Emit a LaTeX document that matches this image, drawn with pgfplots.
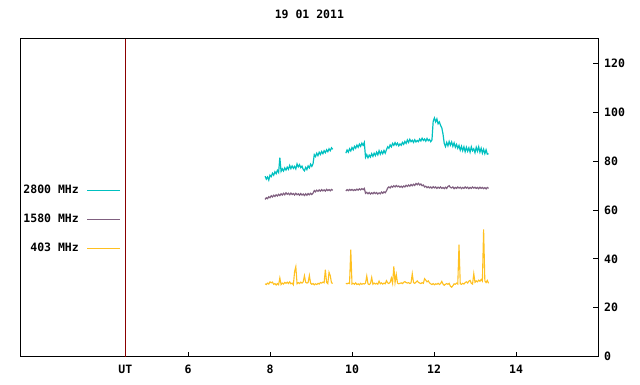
\documentclass[border=0pt]{standalone}
\usepackage{fontspec}
\setmainfont{DejaVu Sans Mono}
\usepackage{pgfplots}
\usepackage{pgfplotstable}
\pgfplotsset{compat=1.18}
\definecolor{ccyan}{RGB}{0,192,192}
\definecolor{cpurp}{RGB}{128,96,128}
\definecolor{corng}{RGB}{255,192,32}
\definecolor{cdred}{RGB}{139,0,0}
\pgfplotstableread{
x c p o
7.88 73.8 64.3 29.8
7.91 72.6 65.0 29.5
7.94 73.5 64.6 30.1
7.97 72.2 65.4 29.7
8.00 74.2 65.0 30.6
8.03 73.6 65.8 30.2
8.06 75.0 65.3 30.5
8.09 74.2 66.0 29.6
8.12 75.6 65.5 29.9
8.15 74.8 66.2 29.3
8.18 76.2 65.7 29.9
8.21 75.3 66.4 29.4
8.24 81.4 65.9 32.2
8.27 75.8 66.6 29.5
8.30 76.8 66.1 30.1
8.33 75.9 66.8 29.7
8.36 77.2 66.2 30.4
8.39 76.3 67.0 30.0
8.42 77.5 66.4 30.5
8.45 76.6 66.8 29.9
8.48 78.2 66.2 30.6
8.51 76.9 66.9 29.8
8.54 78.0 66.3 30.1
8.57 77.0 66.7 29.4
8.60 77.8 66.1 34.8
8.63 76.8 66.8 36.8
8.66 78.8 66.2 29.8
8.69 77.6 66.6 30.3
8.72 78.5 66.0 29.9
8.75 77.3 66.7 30.5
8.78 77.9 66.1 30.1
8.81 76.6 66.5 30.6
8.84 76.0 65.9 33.1
8.87 77.4 66.6 30.4
8.90 76.5 66.0 30.1
8.93 78.0 66.7 30.3
8.96 77.2 66.2 33.2
8.99 78.7 66.8 30.1
9.02 77.8 66.3 29.6
9.05 78.9 66.9 29.9
9.08 82.6 67.9 29.4
9.11 81.8 67.4 29.8
9.14 83.2 68.1 29.5
9.17 82.2 67.6 30.0
9.20 83.6 68.2 29.7
9.23 82.7 67.7 30.3
9.26 83.9 68.3 30.1
9.29 83.0 67.8 30.5
9.32 84.2 68.2 30.2
9.35 83.4 67.7 35.6
9.38 84.6 68.4 30.4
9.41 83.8 67.9 29.9
9.44 85.0 68.3 34.5
9.47 84.2 67.8 33.1
9.50 85.4 68.4 30.2
9.53 84.8 68.0 30.0
9.70 nan nan nan
9.85 83.2 67.8 30.0
9.88 84.5 68.3 29.8
9.91 83.6 67.9 30.1
9.94 85.0 68.4 29.9
9.97 84.1 68.0 43.8
10.00 85.5 68.4 29.7
10.03 84.6 67.9 30.0
10.06 86.0 68.3 29.6
10.09 85.2 68.0 30.2
10.12 86.5 68.5 29.5
10.15 85.6 68.1 29.8
10.18 86.9 68.6 29.4
10.21 86.0 68.2 30.0
10.24 87.3 68.7 29.6
10.27 86.4 68.3 29.9
10.30 87.6 68.8 29.7
10.33 81.5 66.8 30.1
10.36 82.6 67.2 33.0
10.39 81.3 66.6 29.8
10.42 82.4 67.1 29.5
10.45 81.6 66.5 29.9
10.48 83.0 67.0 32.4
10.51 81.9 66.6 29.6
10.54 83.2 67.2 30.1
10.57 82.2 66.7 29.7
10.60 83.6 67.1 30.0
10.63 82.5 66.5 29.6
10.66 84.2 67.0 30.9
10.69 82.8 66.6 29.8
10.72 84.0 67.3 30.2
10.75 83.0 66.8 29.7
10.78 84.3 67.4 30.1
10.81 83.2 67.0 29.8
10.84 84.6 67.8 31.1
10.87 85.8 68.9 30.2
10.90 85.2 69.4 29.9
10.93 86.6 69.0 30.4
10.96 85.8 69.7 32.2
10.99 87.2 69.3 30.0
11.02 86.4 69.9 36.9
11.05 87.5 69.4 30.3
11.08 86.5 70.0 33.6
11.11 87.3 69.5 30.1
11.14 86.2 69.8 29.8
11.17 87.0 69.3 30.0
11.20 86.4 69.7 30.2
11.23 87.6 69.2 29.9
11.26 86.8 69.8 30.4
11.29 88.0 69.4 30.7
11.32 87.2 70.1 30.3
11.35 88.6 69.6 30.1
11.38 87.6 70.2 30.3
11.41 88.9 69.7 29.9
11.44 87.9 70.4 30.2
11.47 88.5 69.9 33.9
11.50 87.6 70.5 30.3
11.53 88.7 70.0 30.0
11.56 87.8 70.8 30.5
11.59 88.4 70.3 31.0
11.62 87.9 70.9 30.4
11.65 89.0 70.2 30.1
11.68 88.2 70.6 29.9
11.71 89.3 69.9 30.3
11.74 88.4 70.2 30.0
11.77 89.0 69.4 31.9
11.80 88.1 69.7 31.3
11.83 89.2 69.1 30.6
11.86 88.3 69.5 31.0
11.89 88.8 69.0 30.2
11.92 87.9 69.4 29.8
11.95 88.6 68.9 29.5
11.98 96.2 69.5 29.9
12.01 97.6 69.0 29.4
12.04 96.0 69.4 29.8
12.07 97.2 68.8 29.6
12.10 95.2 69.3 30.0
12.13 96.0 68.9 29.5
12.16 94.6 69.4 29.9
12.19 93.6 68.8 30.8
12.22 91.0 69.2 29.7
12.25 87.2 68.7 29.2
12.28 85.9 69.3 29.6
12.31 87.6 68.8 29.9
12.34 86.2 69.6 29.6
12.37 88.0 69.9 30.0
12.40 86.5 69.2 28.8
12.43 87.8 69.0 28.4
12.46 86.0 69.4 29.0
12.49 87.4 68.7 29.8
12.52 85.6 69.2 29.6
12.55 86.8 68.8 30.1
12.58 85.2 69.4 29.7
12.61 86.4 68.9 45.8
12.64 84.4 69.3 29.8
12.67 86.0 68.7 29.6
12.70 84.2 69.2 30.0
12.73 85.8 68.8 29.7
12.76 83.8 69.4 30.3
12.79 85.6 68.9 30.6
12.82 84.0 69.3 30.1
12.85 85.4 68.7 30.9
12.88 83.6 69.2 31.2
12.91 85.8 68.8 30.0
12.94 84.2 69.4 29.7
12.97 85.0 68.9 33.9
13.00 83.4 69.3 30.4
13.03 85.6 68.8 31.0
13.06 84.0 69.2 30.6
13.09 85.8 68.7 31.3
13.12 83.6 69.3 30.8
13.15 85.2 68.8 31.6
13.18 83.2 69.2 30.9
13.21 84.8 68.7 52.0
13.24 83.0 69.1 31.0
13.27 84.6 68.6 30.3
13.30 82.8 69.2 31.2
13.33 83.0 68.8 30.0
}\datatab
\begin{document}
\begin{tikzpicture}
\begin{axis}[
  scale only axis,
  width=577.2pt, height=318pt,
  xmin=1.922, xmax=16, ymin=0, ymax=130,
  axis line style={black, line width=0.8pt},
  font=\bfseries\fontsize{11.5}{13}\selectfont,
  /pgf/number format/assume math mode=true,
  xtick={4.47,6,8,10,12,14},
  xticklabels={UT,6,8,10,12,14},
  ytick={0,20,40,60,80,100,120},
  xtick pos=left, ytick pos=right,
  yticklabel pos=right,
  tick align=inside,
  major tick length=5pt,
  tick style={black, line width=0.8pt},
  xticklabel style={anchor=north, inner sep=0pt, yshift=-8pt},
  yticklabel style={anchor=west, inner sep=0pt, xshift=6pt},
  title={19 01 2011},
  title style={at={(0.5,1)}, anchor=base, yshift=14.7pt, inner sep=0pt},
  unbounded coords=jump,
  clip=false,
  legend plot pos=right,
  legend cell align=right,
  legend style={draw=none, fill=none, at={(rel axis cs:0.1736,0.433)}, anchor=east,
    inner sep=0pt, row sep=19pt, column sep=8pt,
    nodes={inner sep=0pt, text height=8pt, text depth=2pt}},
  legend image code/.code={\draw[#1, line width=1pt] (0pt,0pt) -- (33pt,0pt);},
]
\addplot[ccyan, line width=1.2pt] table[x=x, y=c] {\datatab};
\addlegendentry{2800 MHz}
\addplot[cpurp, line width=1.2pt] table[x=x, y=p] {\datatab};
\addlegendentry{1580 MHz}
\addplot[corng, line width=1.1pt] table[x=x, y=o] {\datatab};
\addlegendentry{403 MHz}
\addplot[cdred, line width=0.8pt, forget plot] coordinates {(4.47,0) (4.47,130)};
\coordinate (bl) at ([xshift=-20.8pt,yshift=-27.3pt]rel axis cs:0,0);
\coordinate (tr) at ([xshift=42pt,yshift=38.7pt]rel axis cs:1,1);
\end{axis}
\pgfresetboundingbox
\path (bl) rectangle (tr);
\end{tikzpicture}
\end{document}
